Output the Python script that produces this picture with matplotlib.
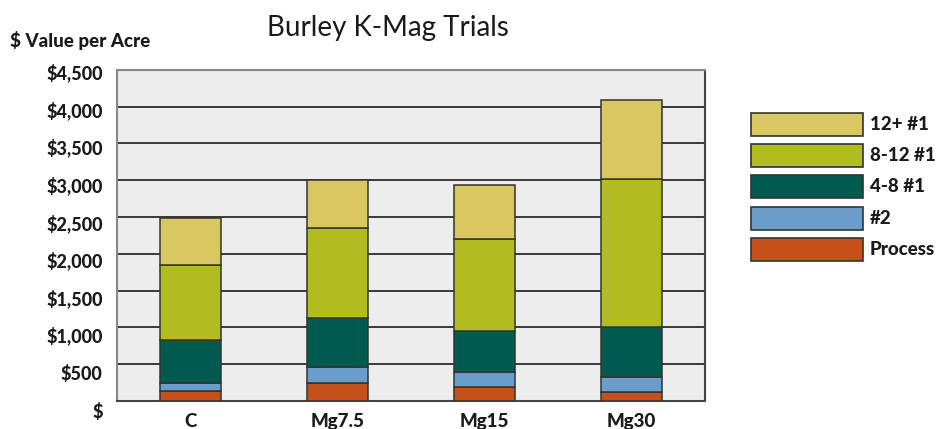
import matplotlib
matplotlib.use("Agg")
import matplotlib.pyplot as plt
from matplotlib.patches import Rectangle
import numpy as np

# Data ($ value per acre, stacked by grade)
treatments = ["C", "Mg7.5", "Mg15", "Mg30"]
grades = ["Process", "#2", "4-8 #1", "8-12 #1", "12+ #1"]
process = [132, 240, 195, 122]
grade_2 = [117, 218, 204, 200]
grade_4_8 = [580, 670, 552, 680]
grade_8_12 = [1016, 1224, 1255, 2011]
grade_12 = [645, 648, 730, 1070]

colors = ["#C4511A", "#6A9DC9", "#015A50", "#B0BC20", "#D9C862"]
series = [process, grade_2, grade_4_8, grade_8_12, grade_12]

W, H = 937, 429
fig = plt.figure(figsize=(W / 100, H / 100), dpi=100)
plt.rcParams['font.family'] = ['Lato', 'DejaVu Sans']
HEAVY = 900

ax = fig.add_axes([116.7 / W, 28 / H, 588.6 / W, 331.3 / H])
ax.set_facecolor("#EDEDED")

x = np.arange(len(treatments))
bottom = np.zeros(len(treatments))
for vals, col in zip(series, colors):
    ax.bar(x, vals, width=0.415, bottom=bottom, color=col,
           edgecolor="#333333", linewidth=1.1, zorder=3)
    bottom += np.array(vals)

ax.set_xlim(-0.5, len(treatments) - 0.5)
ax.set_ylim(0, 4500)
yticks = np.arange(0, 4501, 500)
ax.set_yticks(yticks)
ax.set_yticklabels([])
ax.set_xticks([])
ax.tick_params(left=False, bottom=False)
ax.grid(axis="y", color="#1a1a1a", linewidth=1.2, zorder=1)

for side in ["left", "top"]:
    ax.spines[side].set_color("#888888")
    ax.spines[side].set_linewidth(1.5)
for side in ["right", "bottom"]:
    ax.spines[side].set_color("#444444")
    ax.spines[side].set_linewidth(1.5)

# y tick labels sit a little lower than the gridlines, as in the original
for v in yticks:
    label = "$" if v == 0 else "${:,}".format(v)
    frac = (-10.6 + 0.0753 * v) / 331.3
    ax.text(-14 / 588.6, frac, label, transform=ax.transAxes, ha="right",
            va="center", fontsize=13, fontweight=HEAVY, color="#1a1a1a")

for xi, name in zip(x, treatments):
    ax.text(xi, -26 / 331.3, name, transform=ax.get_xaxis_transform(),
            ha="center", va="baseline", fontsize=13.5, fontweight=HEAVY,
            color="#1a1a1a")

fig.text(388 / W, 1 - 28 / H, "Burley K-Mag Trials", ha="center", va="center",
         fontsize=20, color="#1a1a1a")
fig.text(10 / W, 1 - 41 / H, "$ Value per Acre", ha="left", va="center",
         fontsize=13.5, fontweight=HEAVY, color="#1a1a1a")

# legend, top entry first
for i, (name, col) in enumerate(zip(grades[::-1], colors[::-1])):
    top = 112.7 + i * 31.3
    fig.patches.append(Rectangle((751 / W, 1 - (top + 23) / H), 112 / W, 23 / H,
                                 transform=fig.transFigure, facecolor=col,
                                 edgecolor="#333333", linewidth=1.2))
    fig.text(870 / W, 1 - (top + 11.5) / H, name, ha="left", va="center",
             fontsize=13.5, fontweight=HEAVY, color="#1a1a1a")

fig.savefig("out.png", dpi=100)
